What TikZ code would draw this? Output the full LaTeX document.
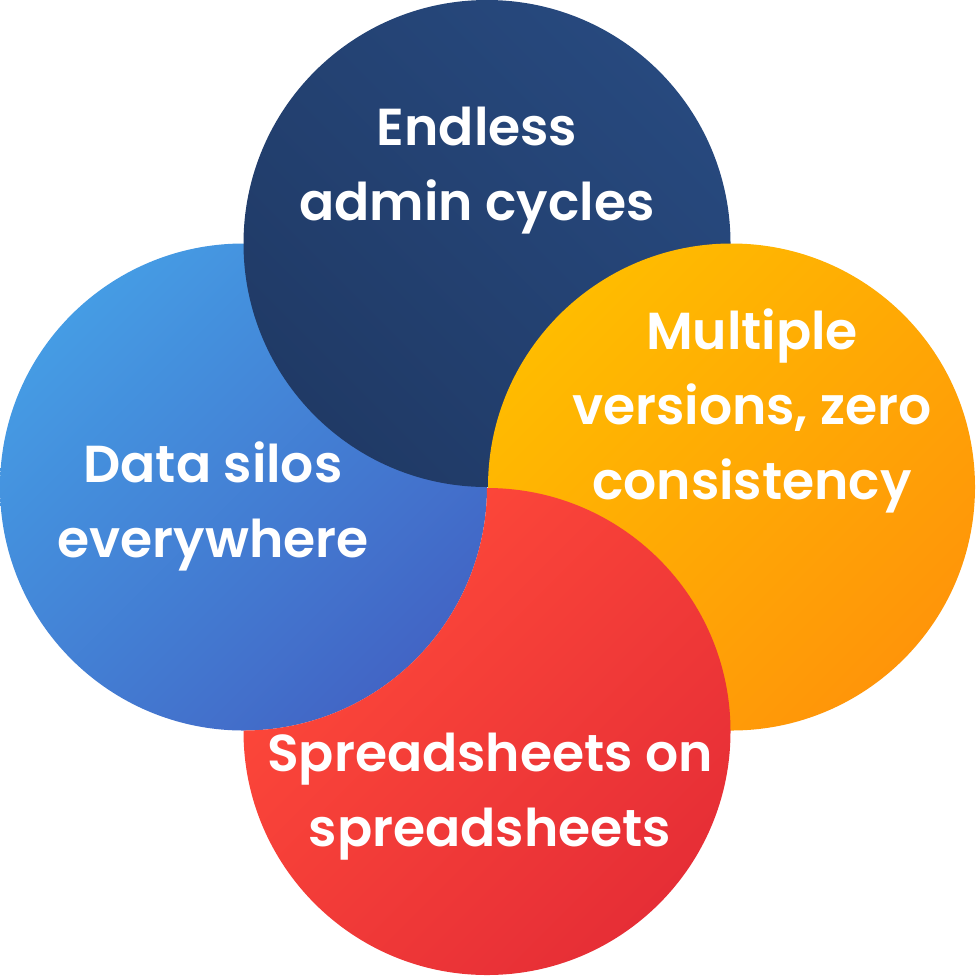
\documentclass[tikz,border=0pt]{standalone}
\usepackage{fontspec}
\newfontfamily\pf{Poppins SemiBold}
\definecolor{navyA}{HTML}{27497E}
\definecolor{navyB}{HTML}{203A66}
\definecolor{blueA}{HTML}{459CE4}
\definecolor{blueB}{HTML}{4265C5}
\definecolor{oranA}{HTML}{FFBC00}
\definecolor{oranB}{HTML}{FF9509}
\definecolor{redA}{HTML}{FF4A3A}
\definecolor{redB}{HTML}{E62E36}
\tikzset{
  lbl/.style={text=white,align=center,anchor=base,inner sep=0pt,
    font=\pf\fontsize{52}{75}\selectfont},
  navyfill/.style={top color=navyA,bottom color=navyB,shading angle=-45},
  bluefill/.style={top color=blueA,bottom color=blueB,shading angle=45},
  oranfill/.style={top color=oranA,bottom color=oranB,shading angle=45},
  redfill/.style={top color=redA,bottom color=redB,shading angle=45}
}
\begin{document}
\begin{tikzpicture}[x=1pt,y=-1pt]
\useasboundingbox (0,0) rectangle (979,975);
\def\R{243.5}
\coordinate (cN) at (487,243.5);
\coordinate (cB) at (243.5,487);
\coordinate (cO) at (731.5,487);
\coordinate (cR) at (487,731.5);
\shade[bluefill] (cB) circle[radius=\R];
\shade[navyfill] (cN) circle[radius=\R];
\shade[oranfill] (cO) circle[radius=\R];
\begin{scope}[even odd rule]
  \clip (-20,-20) rectangle (1000,1000) (cB) circle[radius=\R];
  \shade[redfill] (cR) circle[radius=\R];
\end{scope}
\node[lbl] (tN) at (477,220) {Endless\\admin cycles};
\node[lbl] (tO) at (752,499) {Multiple\\versions, zero\\consistency};
\node[lbl] (tB) at (213,557) {Data silos\\everywhere};
\node[lbl] (tR) at (490,846) {Spreadsheets on\\spreadsheets};
\end{tikzpicture}
\end{document}
